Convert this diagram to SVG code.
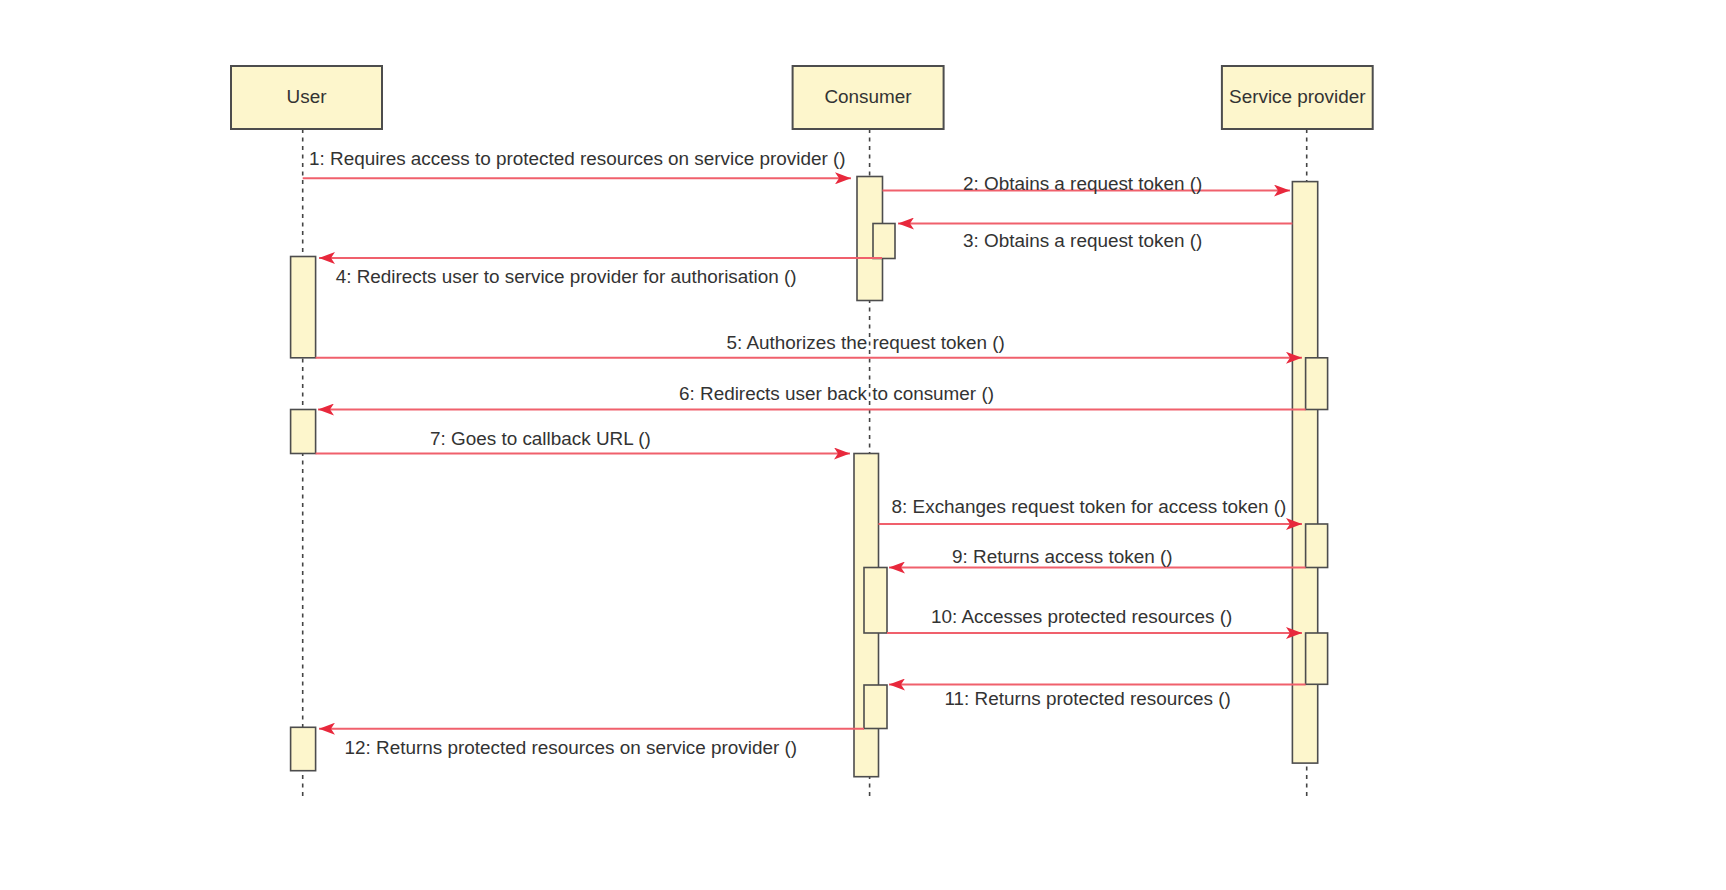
<svg xmlns="http://www.w3.org/2000/svg" width="1726" height="890" viewBox="0 0 1726 890">
<defs>
<style>
.box{fill:#fdf6cc;stroke:#4d4d4d;stroke-width:2}
.act{fill:#fdf6cc;stroke:#4d4d4d;stroke-width:1.6}
.life{stroke:#444;stroke-width:1.6;stroke-dasharray:4,4.5;fill:none}
.msg{stroke:#f0606c;stroke-width:2;fill:none;marker-end:url(#ah)}
text{font-family:"Liberation Sans",Arial,sans-serif;font-size:18.9px;fill:#333}
.c{text-anchor:middle}
</style>
<marker id="ah" markerUnits="userSpaceOnUse" markerWidth="17" markerHeight="12" refX="16" refY="6" orient="auto">
<path d="M0,0 L16,6 L0,12 L4,6 z" fill="#e8283c"/>
</marker>
</defs>
<rect width="1726" height="890" fill="#fff"/>
<g id="lifelines">
<line class="life" x1="302.7" y1="129" x2="302.7" y2="800"/>
<line class="life" x1="869.6" y1="129" x2="869.6" y2="800"/>
<line class="life" x1="1306.7" y1="129" x2="1306.7" y2="800"/>
</g>
<g id="user">
<rect class="box" x="231" y="66" width="151" height="63"/>
<text class="c" x="306.5" y="103">User</text>
<rect class="act" x="290.6" y="256.5" width="25" height="101.3"/>
<rect class="act" x="290.6" y="409.5" width="25" height="44"/>
<rect class="act" x="290.6" y="727.3" width="25" height="43.4"/>
</g>
<g id="consumer">
<rect class="box" x="792.6" y="66" width="151" height="63"/>
<text class="c" x="868" y="103">Consumer</text>
<rect class="act" x="857" y="176.5" width="25.5" height="124"/>
<rect class="act" x="873" y="223.5" width="22" height="35"/>
<rect class="act" x="854" y="453.5" width="24.5" height="323.2"/>
<rect class="act" x="864" y="567.5" width="23" height="65.5"/>
<rect class="act" x="864" y="685" width="23" height="43.5"/>
</g>
<g id="service-provider">
<rect class="box" x="1221.9" y="66" width="150.8" height="63"/>
<text class="c" x="1297.3" y="103">Service provider</text>
<rect class="act" x="1292.4" y="181.6" width="25.3" height="581.5"/>
<rect class="act" x="1305.6" y="357.8" width="22" height="51.7"/>
<rect class="act" x="1305.6" y="524" width="22" height="43.5"/>
<rect class="act" x="1305.6" y="633" width="22" height="51.3"/>
</g>
<g id="connectors">
<line class="msg" x1="302.7" y1="178.3" x2="851" y2="178.3"/>
<line class="msg" x1="882.5" y1="190.6" x2="1290" y2="190.6"/>
<line class="msg" x1="1292.4" y1="223.5" x2="898" y2="223.5"/>
<line class="msg" x1="882" y1="258" x2="319" y2="258"/>
<line class="msg" x1="315.6" y1="357.8" x2="1302" y2="357.8"/>
<line class="msg" x1="1305.6" y1="409.5" x2="318" y2="409.5"/>
<line class="msg" x1="315.6" y1="453.5" x2="850" y2="453.5"/>
<line class="msg" x1="878.5" y1="524" x2="1302" y2="524"/>
<line class="msg" x1="1305.6" y1="567.5" x2="889" y2="567.5"/>
<line class="msg" x1="887" y1="633" x2="1302" y2="633"/>
<line class="msg" x1="1305.6" y1="684.5" x2="889" y2="684.5"/>
<line class="msg" x1="864" y1="728.7" x2="319" y2="728.7"/>
</g>
<g id="labels">
<text x="309" y="165">1: Requires access to protected resources on service provider ()</text>
<text x="963" y="190">2: Obtains a request token ()</text>
<text x="963" y="246.5">3: Obtains a request token ()</text>
<text x="335.7" y="282.5">4: Redirects user to service provider for authorisation ()</text>
<text x="726.5" y="349">5: Authorizes the request token ()</text>
<text x="679" y="400">6: Redirects user back to consumer ()</text>
<text x="430" y="444.5">7: Goes to callback URL ()</text>
<text x="891.6" y="513">8: Exchanges request token for access token ()</text>
<text x="952" y="562.5">9: Returns access token ()</text>
<text x="931" y="622.5">10: Accesses protected resources ()</text>
<text x="944.5" y="705">11: Returns protected resources ()</text>
<text x="344.6" y="754">12: Returns protected resources on service provider ()</text>
</g>
</svg>
